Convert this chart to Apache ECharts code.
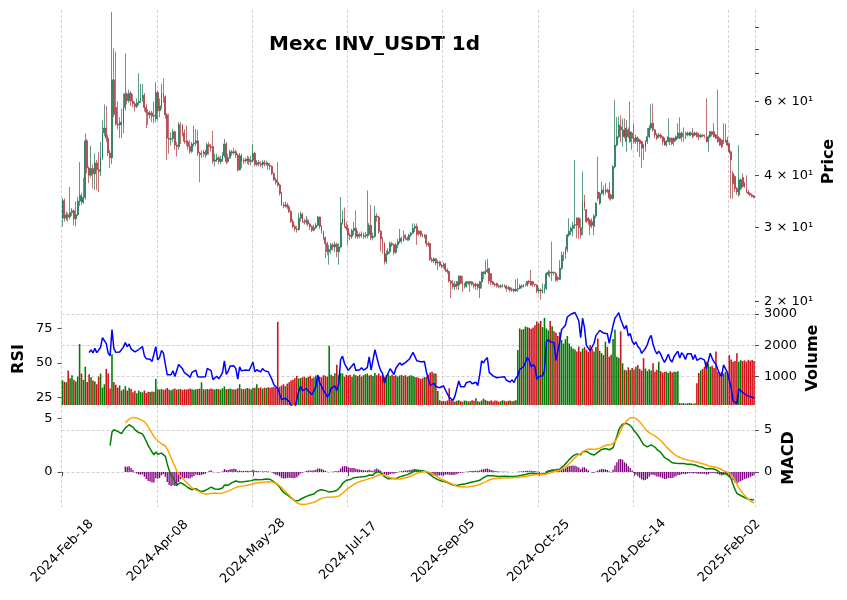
<!DOCTYPE html>
<html>
<head>
<meta charset="utf-8">
<script src="https://cdn.jsdelivr.net/npm/echarts@6/dist/echarts.min.js"></script>
<style>
  html, body { margin: 0; padding: 0; background: #fff; }
  #chart { width: 847px; height: 600px; }
</style>
</head>
<body>
<div id="chart"></div>
<script>
// daily candles, first one is 2024-02-18
var opens = [
  31.6,34.8,31.6,32.2,31.8,32.6,32.9,31.5,32.2,34.7, 35.8,34.5,35.4,48.3,41.6,40.0,41.5,40.3,42.8,41.2,
  40.8,44.0,50.5,51.8,49.0,45.2,44.0,67.5,58.0,53.0, 52.7,53.5,52.8,58.0,62.5,60.2,62.7,60.0,59.2,58.3,
  59.5,60.0,61.0,62.0,58.0,56.5,55.7,56.3,55.3,54.5, 63.0,57.0,58.5,62.7,61.5,55.7,49.0,48.7,48.9,50.8,
  47.2,46.8,52.8,52.5,50.5,48.2,48.0,46.8,45.6,47.5, 47.7,48.3,45.2,44.8,45.0,45.4,44.9,47.3,46.8,46.8,
  43.2,43.5,44.0,43.1,43.7,44.5,47.5,43.1,44.0,45.5, 45.2,45.5,44.7,41.2,44.5,43.1,43.5,43.3,43.7,43.1,
  43.4,45.1,42.4,42.9,42.6,42.3,43.0,42.5,42.7,42.2, 42.0,40.4,39.0,38.5,37.9,36.2,34.0,33.8,34.0,33.6,
  32.8,31.0,30.2,29.8,29.7,31.6,32.3,31.0,30.9,31.2, 30.6,30.2,29.6,30.0,30.4,31.8,30.2,29.4,28.4,27.5,
  26.3,26.6,27.3,27.0,27.4,26.3,27.0,30.8,31.5,30.2, 29.9,28.8,28.6,29.5,29.9,28.6,28.9,28.7,29.0,28.6,
  28.7,28.9,30.4,28.4,28.6,32.0,31.8,29.4,28.2,27.5, 24.9,26.0,26.3,27.5,27.3,26.2,27.3,27.8,28.3,27.9,
  28.8,28.3,28.1,28.8,29.1,29.9,30.2,29.4,29.4,28.8, 28.6,28.8,27.5,27.5,25.2,25.0,25.3,24.7,24.9,24.4,
  24.3,24.6,23.8,23.6,22.4,22.1,21.7,22.3,21.9,23.0, 22.1,21.9,21.7,22.3,22.1,22.3,22.0,21.8,22.0,21.5,
  22.3,23.5,23.3,23.6,24.0,23.3,22.3,22.0,22.1,21.8, 21.7,21.8,21.9,21.8,21.5,21.6,21.3,21.4,21.2,21.4,
  21.5,21.8,21.7,21.9,21.9,22.35,22.35,22.3,22.0,21.9, 21.2,21.3,21.0,21.3,21.5,23.2,23.5,23.4,23.5,23.35,
  22.8,22.6,24.0,25.8,25.9,26.6,28.8,29.4,29.9,30.4, 31.6,31.6,30.0,29.9,34.6,33.1,31.6,31.3,31.0,30.2,
  32.0,36.5,34.3,36.2,36.9,36.3,36.9,36.9,35.9,35.2, 41.9,47.2,49.4,52.2,49.4,51.3,48.1,51.3,48.1,50.4,
  49.0,48.1,49.0,48.5,48.1,47.2,46.8,48.1,49.4,51.8, 53.2,51.3,49.9,49.5,49.9,49.4,49.0,47.2,48.1,49.0,
  49.0,48.1,48.5,49.0,50.4,49.4,49.9,49.4,49.9,49.9, 50.0,50.4,49.9,50.4,49.9,49.4,49.8,49.6,49.4,48.1,
  49.4,50.8,50.8,49.9,49.4,49.0,48.5,48.1,48.1,48.5, 47.6,45.5,40.4,39.7,37.2,35.9,37.2,39.5,38.3,37.2,
  36.5,36.2,35.9,35.7
]
var highs = [
  35.3,35.2,32.8,32.6,37.5,33.4,33.2,34.6,35.5,43.0, 36.3,39.5,50.3,48.8,42.0,47.0,42.5,45.1,43.5,45.5,
  48.0,54.1,59.0,58.5,50.0,46.0,98.0,80.2,78.8,60.0, 55.0,57.5,62.7,78.0,63.0,64.0,63.5,62.5,60.0,61.0,
  70.0,66.0,66.0,62.8,59.0,57.5,57.0,57.0,59.9,66.7, 63.5,61.0,66.0,68.0,62.0,56.2,56.0,50.5,51.5,51.0,
  48.0,53.5,53.5,53.0,51.5,52.5,48.5,48.5,48.0,52.5, 51.5,51.3,45.5,45.8,46.0,46.0,47.8,48.0,47.5,51.0,
  45.0,45.0,44.5,44.5,45.5,48.8,48.0,45.0,46.0,46.0, 46.5,46.0,45.0,45.2,45.0,44.0,44.0,44.5,44.3,44.5,
  47.4,45.5,43.5,43.5,43.2,43.5,43.5,43.3,43.0,42.8, 42.2,40.6,39.5,43.0,38.2,36.5,34.5,34.6,34.4,34.0,
  33.0,31.5,30.5,30.3,32.5,32.8,32.6,31.5,32.0,31.5, 30.8,30.4,30.5,30.8,32.0,31.9,30.4,29.5,28.6,27.8,
  27.3,27.6,27.6,27.8,27.6,27.5,35.5,33.0,33.5,31.0, 30.5,29.2,29.8,31.0,33.0,29.5,29.2,29.4,29.2,29.3,
  36.8,30.8,34.0,29.2,33.8,32.5,32.0,29.6,28.5,27.7, 26.5,26.8,27.8,27.8,27.5,27.6,28.2,29.8,28.6,29.5,
  28.9,28.6,29.0,29.3,30.7,30.7,30.7,29.6,29.6,29.0, 29.0,28.9,27.8,27.6,25.5,25.5,25.4,25.1,25.0,24.6,
  24.8,24.7,24.0,23.7,22.5,22.5,22.4,22.4,23.1,23.1, 23.0,22.2,22.4,22.4,22.4,22.4,22.2,22.2,22.1,22.4,
  23.6,23.6,25.1,25.3,24.0,23.4,22.4,22.2,22.2,22.0, 22.0,22.0,22.0,21.9,21.8,21.7,21.6,21.5,22.6,22.7,
  22.0,22.0,22.0,22.1,22.4,22.5,23.8,22.4,22.0,22.0, 21.6,21.5,22.1,22.0,23.5,23.8,23.7,27.8,23.6,23.5,
  23.0,25.1,26.3,26.3,27.0,29.0,31.6,30.2,31.0,43.5, 31.8,31.8,31.6,40.8,35.9,33.2,31.8,31.5,31.6,32.3,
  34.5,44.3,36.5,38.6,37.8,38.3,37.2,38.5,36.2,42.3, 60.4,55.0,55.2,55.5,54.6,54.6,54.2,52.0,59.9,50.8,
  53.2,50.0,49.5,48.8,48.3,47.5,48.5,51.8,52.7,59.0, 59.3,51.5,50.4,50.5,50.3,49.5,49.2,48.5,54.6,49.2,
  49.2,49.2,49.8,53.2,55.0,50.8,52.0,50.8,50.8,50.8, 50.8,51.8,50.8,50.8,50.5,50.2,50.2,50.0,61.0,49.8,
  51.0,51.0,53.2,50.2,64.0,49.2,48.7,53.2,53.0,49.4, 47.8,45.8,41.0,40.0,37.5,47.2,39.3,40.4,38.5,40.0,
  36.9,36.5,36.2,35.9
]
var lows = [
  30.2,31.0,31.2,31.0,31.4,32.0,30.4,30.2,32.0,33.8, 34.0,34.2,35.0,40.5,38.3,39.5,37.2,36.9,36.9,36.5,
  39.8,43.5,49.5,48.0,44.5,41.6,42.5,55.0,52.5,51.5, 49.0,49.0,50.4,57.0,59.0,59.5,58.5,58.0,56.7,57.8,
  58.8,59.5,59.8,56.7,51.8,52.7,54.5,53.5,53.2,53.5, 54.0,55.0,57.5,59.5,54.5,43.5,45.0,47.0,48.0,46.0,
  44.3,46.0,47.5,49.5,47.5,47.0,46.0,45.0,45.2,46.8, 47.0,44.5,38.5,44.0,44.2,44.0,44.5,44.8,45.5,42.6,
  42.0,43.0,42.5,42.5,43.0,44.0,42.5,42.8,43.8,44.5, 44.8,44.0,40.8,41.0,41.6,42.5,42.8,42.5,42.3,42.2,
  43.0,42.0,42.0,42.0,41.8,41.5,42.0,42.2,41.2,41.2, 40.0,38.8,38.0,37.5,35.8,33.8,33.4,33.5,33.2,32.5,
  30.8,29.9,29.4,29.2,29.5,31.0,30.8,30.5,30.5,30.2, 29.6,29.3,29.4,29.8,30.2,29.8,29.0,28.0,25.4,25.8,
  24.5,26.0,26.5,26.2,25.5,24.5,26.8,30.5,30.0,29.5, 27.3,28.0,28.2,28.8,28.3,28.2,28.3,28.4,28.2,28.3,
  28.3,28.6,28.0,28.0,28.4,31.0,29.0,26.3,26.0,24.5, 24.6,25.8,26.0,27.0,25.8,26.0,26.8,27.5,27.5,27.8,
  28.0,27.9,27.9,28.5,29.0,29.3,27.3,28.7,28.5,28.4, 28.3,27.0,27.0,25.0,24.8,24.7,24.4,23.8,24.2,24.0,
  24.0,23.5,23.3,22.2,20.4,21.4,21.3,21.4,21.3,22.0, 21.1,21.5,21.6,21.9,21.1,21.8,21.5,21.3,21.3,20.4,
  21.5,22.6,23.2,23.4,22.0,21.9,21.9,21.7,21.6,21.5, 21.5,21.6,21.6,21.1,21.3,21.1,21.1,21.0,21.1,21.1,
  21.4,21.5,21.6,21.7,21.7,22.0,21.8,21.7,21.7,20.95, 20.9,20.2,20.9,20.9,21.3,23.0,22.8,22.4,23.1,22.3,
  22.3,22.5,23.8,25.0,25.3,26.2,28.5,28.8,28.6,29.8, 28.3,28.2,28.3,28.8,33.0,30.8,30.5,28.8,29.9,28.8,
  31.6,34.8,34.0,36.0,35.8,36.0,36.3,35.0,34.8,35.0, 41.5,46.8,49.0,48.0,46.8,49.0,45.5,49.0,47.8,46.0,
  47.5,47.5,45.5,44.2,41.6,43.5,45.5,47.5,49.0,51.3, 50.8,49.0,48.5,49.0,48.8,47.2,47.0,46.8,47.8,47.2,
  47.2,47.0,48.2,48.8,48.8,48.1,48.1,48.8,49.5,49.5, 49.6,49.0,49.6,49.2,48.5,49.0,49.3,49.0,47.8,45.5,
  49.0,49.5,49.2,48.8,47.8,47.0,46.4,47.5,47.8,47.0, 45.0,35.2,35.2,36.5,35.9,35.5,36.8,37.4,37.3,36.3,
  35.9,35.7,35.4,35.2
]
var closes = [
  34.8,31.6,32.2,31.8,32.6,32.9,31.5,32.2,34.7,35.8, 34.5,35.4,48.3,41.6,40.0,41.5,40.3,42.8,41.2,40.8,
  44.0,50.5,51.8,49.0,45.2,44.0,67.5,55.8,53.0,52.7, 53.5,52.8,58.0,62.5,60.2,62.7,60.0,59.2,58.3,59.5,
  60.0,61.0,62.0,58.0,56.5,55.7,56.3,55.3,55.5,63.0, 57.0,58.5,62.7,61.5,55.7,49.0,48.7,48.9,50.8,47.2,
  46.8,52.8,52.5,50.5,48.2,48.0,46.8,45.6,47.5,47.7, 48.3,45.2,44.8,45.0,45.4,44.9,47.3,46.8,46.5,43.2,
  43.5,44.0,43.1,43.7,44.5,47.5,43.1,44.0,45.5,45.2, 45.5,44.7,41.2,44.5,43.1,43.5,43.3,43.7,43.1,43.4,
  45.1,42.4,42.9,42.6,42.3,43.0,42.5,42.7,42.2,42.0, 40.4,39.0,38.5,37.9,36.2,34.0,33.8,34.0,33.6,32.8,
  31.0,30.2,29.8,29.7,31.6,32.3,31.0,30.9,31.2,30.6, 30.2,29.6,30.0,30.4,31.8,30.2,29.4,28.4,27.5,26.3,
  26.6,27.3,27.0,27.4,26.3,27.0,30.8,31.5,30.2,29.9, 28.8,28.6,29.5,29.9,28.6,28.9,28.7,29.0,28.6,28.7,
  28.9,30.4,28.4,28.6,32.0,31.8,29.4,28.2,27.5,24.9, 26.0,26.3,27.5,27.3,26.2,27.3,27.8,28.3,27.9,28.2,
  28.3,28.1,28.8,29.1,29.9,30.2,28.9,29.0,28.8,28.6, 28.8,27.5,27.3,25.2,25.0,25.3,24.7,24.8,24.4,24.3,
  24.5,23.8,23.6,22.4,22.1,21.7,22.0,21.8,23.0,22.1, 21.9,22.0,22.3,22.1,22.3,22.0,21.8,22.0,21.6,22.3,
  23.5,23.3,23.6,23.8,22.4,22.2,22.0,21.9,21.8,21.7, 21.8,21.9,21.8,21.5,21.6,21.3,21.4,21.2,21.4,21.5,
  21.8,21.7,21.9,21.9,22.35,22.2,21.9,22.0,21.9,21.2, 21.3,21.2,21.3,21.5,23.3,23.5,23.4,23.5,23.4,22.5,
  22.6,24.0,25.8,25.9,26.6,28.8,29.4,29.9,30.4,30.5, 30.4,30.0,28.8,34.6,33.5,31.0,31.1,30.2,30.4,32.0,
  34.3,35.2,36.2,36.9,36.3,36.9,36.6,35.3,35.2,41.9, 47.2,49.4,52.7,51.3,51.3,49.4,51.8,49.4,50.8,49.0,
  48.1,49.2,48.1,47.6,46.4,46.4,48.1,49.4,51.8,53.2, 51.3,49.9,49.0,49.9,49.2,48.1,47.2,48.2,49.4,48.1,
  47.6,49.0,49.4,50.4,49.0,50.4,49.9,49.0,50.4,50.4, 50.4,49.4,50.4,49.4,49.4,49.8,49.6,49.5,48.1,49.4,
  50.8,50.0,49.4,49.0,48.1,47.2,46.8,48.5,48.5,47.2, 45.5,43.5,38.2,37.2,36.5,39.0,39.0,37.6,37.6,36.5,
  36.2,35.9,35.6,35.4
]
var volumes = [
  890,840,820,1200,950,1050,900,850,1000,2040, 1100,900,1320,830,1080,980,880,850,760,1000,
  1100,650,760,1250,1100,620,1720,830,740,650, 720,560,600,700,560,650,610,500,550,470,
  560,520,500,560,480,520,510,530,520,930, 600,590,610,580,600,640,590,570,600,620,
  590,600,610,580,600,590,600,620,600,580, 600,610,620,820,600,590,610,600,620,600,
  590,610,600,590,630,690,600,610,620,600, 590,600,630,760,620,600,610,640,620,600,
  640,650,760,640,660,620,650,640,660,650, 660,680,650,2750,680,720,760,700,780,820,
  880,900,950,1020,940,960,980,1000,960,990, 1030,950,980,1040,1000,1010,980,1050,1030,1000,
  1990,1060,1020,1110,1380,1050,1120,1100,1000,1060, 1040,1060,1000,1080,1050,1020,1060,1000,1050,1080,
  1100,1040,1060,1020,1120,1050,1100,1030,1060,1000, 1050,1080,1030,1060,1020,1050,1000,1040,1060,1020,
  1050,1000,1030,1050,1020,990,980,960,930,950, 990,1000,1060,1130,1160,1110,1100,545,250,220,
  230,210,240,630,260,220,210,230,250,220, 200,240,230,210,220,250,230,310,220,200,
  240,300,260,230,220,250,210,240,230,200, 220,250,230,210,230,240,220,230,250,1850,
  2540,2500,2520,2600,2580,2560,2530,2570,2640,2760, 2700,2780,2580,2880,2540,2480,2780,2610,2450,2400,
  2300,2420,2170,2060,2200,2300,2060,1960,1900,1870, 1800,1960,1800,1900,1950,1860,1800,2010,1880,1800,
  1950,2220,1820,1750,1690,2120,1950,1640,1700,2200, 2500,1640,1600,2450,1430,1220,1200,1300,1210,1280,
  1230,1320,1370,1250,1200,1590,1260,1180,1240,1200, 1430,1160,1220,1480,1180,1130,1150,1160,1120,1170,
  1130,1160,1150,1170,160,150,160,140,150,160, 150,140,150,790,1120,1200,1250,1320,1480,1400,
  1320,1350,1280,1800,1160,1130,1150,1100,1160,1130, 1690,1550,1480,1500,1745,1480,1530,1500,1520,1480,
  1540,1510,1530,1500
]
var priceTicks = [20, 30, 40, 50, 60, 70, 80, 90]
var priceLabels = [20, 30, 40, 60]
var volumeTicks = [1000, 2000, 3000]
var rsiTicks = [25, 50, 75]
var macdTicks = [0, 5]

var monthNames = ['Jan', 'Feb', 'Mar', 'Apr', 'May', 'Jun', 'Jul', 'Aug', 'Sep', 'Oct', 'Nov', 'Dec']
var dates = closes.map(function (c, i) {
  var d = new Date(Date.UTC(2024, 1, 18 + i))
  return d.getUTCFullYear() + '-' + monthNames[d.getUTCMonth()] + '-' + String(d.getUTCDate()).padStart(2, '0')
})

// RSI 14, Wilder: plain average for the first window, then smoothed
function calcRsi (close, n) {
  var out = close.map(function () { return null })
  var up = 0
  var dn = 0
  for (var i = 1; i < close.length; i++) {
    var d = close[i] - close[i - 1]
    var u = d > 0 ? d : 0
    var w = d < 0 ? -d : 0
    if (i <= n) {
      up += u / n
      dn += w / n
    } else {
      up = (up * (n - 1) + u) / n
      dn = (dn * (n - 1) + w) / n
    }
    if (i >= n) out[i] = dn === 0 ? 100 : 100 - 100 / (1 + up / dn)
  }
  return out
}

function ema (arr, span, start) {
  var a = 2 / (span + 1)
  var out = arr.map(function () { return null })
  var prev = null
  for (var i = start; i < arr.length; i++) {
    prev = prev === null ? arr[i] : a * arr[i] + (1 - a) * prev
    out[i] = prev
  }
  return out
}

var rsi = calcRsi(closes, 14)
var ema12 = ema(closes, 12, 0)
var ema26 = ema(closes, 26, 0)
var macd = closes.map(function (c, i) { return i >= 25 ? ema12[i] - ema26[i] : null })
var sigRaw = ema(macd, 9, 25)
var signal = sigRaw.map(function (v, i) { return i >= 33 ? v : null })
var hist = macd.map(function (v, i) { return i >= 33 ? v - signal[i] : null })

var FONT = 'DejaVu Sans'
var gridLine = { color: '#c4c4c4', type: [3, 2], width: 0.8 }
var plain = function (v) { return String(v) }

function yAxis (grid, pos, type, min, max, ticks, labels, fmt, split) {
  return {
    type: type,
    gridIndex: grid,
    position: pos,
    min: min,
    max: max,
    logBase: 10,
    axisLine: { show: false },
    axisTick: { show: true, customValues: ticks, length: 4, lineStyle: { color: '#222', width: 0.8 } },
    axisLabel: {
      customValues: labels,
      formatter: fmt,
      margin: 9,
      fontFamily: FONT,
      fontSize: 13,
      color: '#000'
    },
    splitLine: { show: !!split, lineStyle: gridLine }
  }
}

function xAxis (grid) {
  return {
    type: 'category',
    gridIndex: grid,
    data: dates,
    boundaryGap: true,
    axisLine: { show: false },
    axisTick: { show: grid === 2, interval: 49, alignWithLabel: true, length: 4, lineStyle: { color: '#222', width: 0.8 } },
    axisLabel: {
      show: grid === 2,
      interval: 49,
      rotate: 45,
      align: 'center',
      verticalAlign: 'middle',
      margin: 44,
      fontFamily: FONT,
      fontSize: 13,
      color: '#000'
    },
    splitLine: { show: true, interval: 49, lineStyle: gridLine }
  }
}

var chart = echarts.init(document.getElementById('chart'), null, { renderer: 'canvas' })
var option = {
  animation: false,
  backgroundColor: '#fff',
  grid: [
    { left: 61.5, right: 92, top: 10, height: 300 },
    { left: 61.5, right: 92, top: 311, height: 94 },
    { left: 61.5, right: 92, top: 405, height: 102 }
  ],
  xAxis: [xAxis(0), xAxis(1), xAxis(2)],
  yAxis: [
    yAxis(0, 'right', 'log', 19.1, 99, priceTicks, priceLabels, function (v) { return Math.round(v / 10) + ' \u00d7 10\u00b9' }, false),
    yAxis(1, 'right', 'value', 97, 3096, volumeTicks, volumeTicks, plain, true),
    yAxis(1, 'left', 'value', 19.7, 87.5, rsiTicks, rsiTicks, plain, false),
    yAxis(2, 'right', 'value', -4.17, 7.98, macdTicks, macdTicks, plain, true),
    yAxis(2, 'left', 'value', -3.28, 6.27, macdTicks, macdTicks, plain, false)
  ],
  series: [
    {
      name: 'Price',
      type: 'candlestick',
      xAxisIndex: 0,
      yAxisIndex: 0,
      barWidth: '70%',
      data: opens.map(function (o, i) { return [o, closes[i], lows[i], highs[i]] }),
      itemStyle: {
        color: '#006340',
        color0: '#A02128',
        borderColor: '#006340',
        borderColor0: '#A02128',
        borderWidth: 0.8,
        opacity: 0.8
      }
    },
    {
      name: 'Volume',
      type: 'bar',
      xAxisIndex: 1,
      yAxisIndex: 1,
      barCategoryGap: '18%',
      data: volumes.map(function (v, i) {
        return { value: v, itemStyle: { color: closes[i] >= opens[i] ? '#007a00' : '#d01018' } }
      })
    },
    {
      name: 'RSI',
      type: 'line',
      xAxisIndex: 1,
      yAxisIndex: 2,
      z: 5,
      showSymbol: false,
      data: rsi,
      lineStyle: { color: '#0000ff', width: 1.5 }
    },
    {
      name: 'Hist',
      type: 'bar',
      xAxisIndex: 2,
      yAxisIndex: 3,
      barCategoryGap: '30%',
      data: hist,
      itemStyle: { color: '#800080' }
    },
    {
      name: 'MACD',
      type: 'line',
      xAxisIndex: 2,
      yAxisIndex: 3,
      z: 5,
      showSymbol: false,
      data: macd,
      lineStyle: { color: '#008000', width: 1.5 }
    },
    {
      name: 'Signal',
      type: 'line',
      xAxisIndex: 2,
      yAxisIndex: 4,
      z: 5,
      showSymbol: false,
      data: signal,
      lineStyle: { color: '#ffa500', width: 1.5 }
    }
  ],
  graphic: [
    { type: 'text', x: 374.5, y: 45, style: { text: 'Mexc INV_USDT 1d', font: 'bold 20px "DejaVu Sans"', fill: '#000', align: 'center', verticalAlign: 'middle' } },
    { type: 'text', x: 828.5, y: 161.5, rotation: Math.PI / 2, style: { text: 'Price', font: 'bold 16px "DejaVu Sans"', fill: '#000', align: 'center', verticalAlign: 'middle' } },
    { type: 'text', x: 19, y: 359, rotation: Math.PI / 2, style: { text: 'RSI', font: 'bold 16px "DejaVu Sans"', fill: '#000', align: 'center', verticalAlign: 'middle' } },
    { type: 'text', x: 812.5, y: 358, rotation: Math.PI / 2, style: { text: 'Volume', font: 'bold 16px "DejaVu Sans"', fill: '#000', align: 'center', verticalAlign: 'middle' } },
    { type: 'text', x: 788.5, y: 458, rotation: Math.PI / 2, style: { text: 'MACD', font: 'bold 16px "DejaVu Sans"', fill: '#000', align: 'center', verticalAlign: 'middle' } }
  ]
}
chart.setOption(option)
</script>
</body>
</html>
